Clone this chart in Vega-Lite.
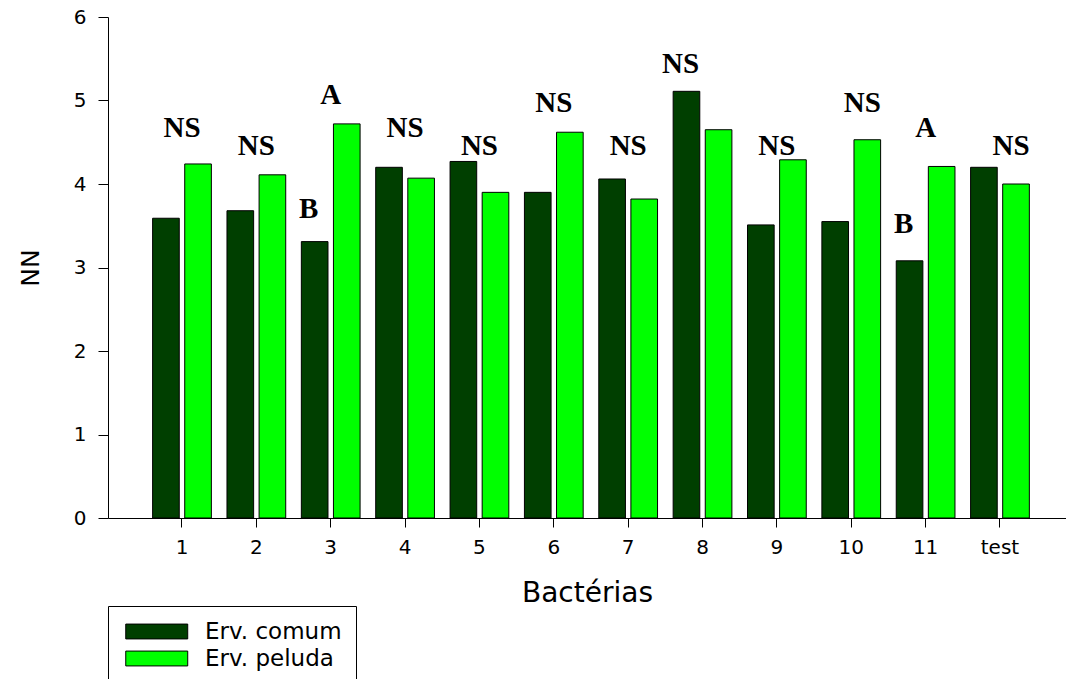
{
  "$schema": "https://vega.github.io/schema/vega-lite/v6.json",
  "width": 958,
  "height": 501,
  "autosize": {"type": "none"},
  "padding": {"left": 108, "top": 17, "right": 0, "bottom": 161},
  "background": "white",
  "config": {
    "view": {"stroke": null},
    "axis": {
      "grid": false,
      "domainColor": "black",
      "domainWidth": 1,
      "tickColor": "black",
      "tickWidth": 1,
      "labelColor": "black",
      "labelFont": "DejaVu Sans",
      "labelFontSize": 20,
      "titleColor": "black",
      "titleFont": "DejaVu Sans",
      "titleFontWeight": "normal"
    }
  },
  "datasets": {
    "nodules": [
      {"bacteria": "1", "vetch": "Erv. comum", "nn": 3.59},
      {"bacteria": "1", "vetch": "Erv. peluda", "nn": 4.24},
      {"bacteria": "2", "vetch": "Erv. comum", "nn": 3.68},
      {"bacteria": "2", "vetch": "Erv. peluda", "nn": 4.11},
      {"bacteria": "3", "vetch": "Erv. comum", "nn": 3.31},
      {"bacteria": "3", "vetch": "Erv. peluda", "nn": 4.72},
      {"bacteria": "4", "vetch": "Erv. comum", "nn": 4.2},
      {"bacteria": "4", "vetch": "Erv. peluda", "nn": 4.07},
      {"bacteria": "5", "vetch": "Erv. comum", "nn": 4.27},
      {"bacteria": "5", "vetch": "Erv. peluda", "nn": 3.9},
      {"bacteria": "6", "vetch": "Erv. comum", "nn": 3.9},
      {"bacteria": "6", "vetch": "Erv. peluda", "nn": 4.62},
      {"bacteria": "7", "vetch": "Erv. comum", "nn": 4.06},
      {"bacteria": "7", "vetch": "Erv. peluda", "nn": 3.82},
      {"bacteria": "8", "vetch": "Erv. comum", "nn": 5.11},
      {"bacteria": "8", "vetch": "Erv. peluda", "nn": 4.65},
      {"bacteria": "9", "vetch": "Erv. comum", "nn": 3.51},
      {"bacteria": "9", "vetch": "Erv. peluda", "nn": 4.29},
      {"bacteria": "10", "vetch": "Erv. comum", "nn": 3.55},
      {"bacteria": "10", "vetch": "Erv. peluda", "nn": 4.53},
      {"bacteria": "11", "vetch": "Erv. comum", "nn": 3.08},
      {"bacteria": "11", "vetch": "Erv. peluda", "nn": 4.21},
      {"bacteria": "test", "vetch": "Erv. comum", "nn": 4.2},
      {"bacteria": "test", "vetch": "Erv. peluda", "nn": 4.0}
    ],
    "letters": [
      {"bacteria": "1", "letter": "NS", "level": 4.56, "side": "center"},
      {"bacteria": "2", "letter": "NS", "level": 4.35, "side": "center"},
      {"bacteria": "3", "letter": "B", "level": 3.59, "side": "left"},
      {"bacteria": "3", "letter": "A", "level": 4.96, "side": "center"},
      {"bacteria": "4", "letter": "NS", "level": 4.56, "side": "center"},
      {"bacteria": "5", "letter": "NS", "level": 4.35, "side": "center"},
      {"bacteria": "6", "letter": "NS", "level": 4.86, "side": "center"},
      {"bacteria": "7", "letter": "NS", "level": 4.35, "side": "center"},
      {"bacteria": "8", "letter": "NS", "level": 5.33, "side": "left"},
      {"bacteria": "9", "letter": "NS", "level": 4.35, "side": "center"},
      {"bacteria": "10", "letter": "NS", "level": 4.86, "side": "right"},
      {"bacteria": "11", "letter": "B", "level": 3.41, "side": "left"},
      {"bacteria": "11", "letter": "A", "level": 4.56, "side": "center"},
      {"bacteria": "test", "letter": "NS", "level": 4.35, "side": "right"}
    ]
  },
  "encoding": {
    "x": {
      "field": "bacteria",
      "type": "nominal",
      "sort": ["1", "2", "3", "4", "5", "6", "7", "8", "9", "10", "11", "test"],
      "scale": {"paddingInner": 0.21, "paddingOuter": 0.5465, "align": 0.549},
      "title": "Bactérias",
      "axis": {
        "labelAngle": 0,
        "tickSize": 9,
        "labelPadding": 10,
        "titleFontSize": 28,
        "titlePadding": 22
      }
    }
  },
  "layer": [
    {
      "data": {"name": "nodules"},
      "mark": {"type": "bar", "stroke": "black", "strokeWidth": 1},
      "encoding": {
        "xOffset": {
          "field": "vetch",
          "type": "nominal",
          "sort": ["Erv. comum", "Erv. peluda"],
          "scale": {"paddingInner": 0.17, "paddingOuter": 0}
        },
        "y": {
          "field": "nn",
          "type": "quantitative",
          "title": "NN",
          "scale": {"domain": [0, 6], "nice": false, "zero": true},
          "axis": {
            "values": [0, 1, 2, 3, 4, 5, 6],
            "format": "d",
            "tickSize": 10,
            "labelPadding": 12,
            "titleFontSize": 25,
            "titlePadding": 30
          }
        },
        "color": {
          "field": "vetch",
          "type": "nominal",
          "scale": {"domain": ["Erv. comum", "Erv. peluda"], "range": ["#003f00", "#00ff00"]},
          "legend": {
            "orient": "none",
            "legendX": 0,
            "legendY": 589,
            "title": null,
            "direction": "vertical",
            "symbolType": "M-1,-0.96L7,-0.96L7,0.96L-1,0.96Z",
            "symbolSize": 240,
            "symbolStrokeColor": "black",
            "symbolStrokeWidth": 1,
            "symbolOpacity": 1,
            "labelFont": "DejaVu Sans",
            "labelFontSize": 23,
            "labelColor": "black",
            "labelOffset": 60,
            "rowPadding": 3,
            "padding": 14,
            "strokeColor": "black",
            "fillColor": "white",
            "cornerRadius": 0
          }
        }
      }
    },
    {
      "mark": {"type": "rule", "color": "black", "strokeWidth": 1},
      "encoding": {"y": {"datum": 6}}
    },
    {
      "data": {"name": "letters"},
      "transform": [{"filter": "datum.side === 'center'"}],
      "mark": {"type": "text", "font": "Liberation Serif", "fontWeight": "bold", "fontSize": 29, "baseline": "alphabetic", "align": "center", "color": "black"},
      "encoding": {
        "y": {"field": "level", "type": "quantitative", "title": "NN"},
        "text": {"field": "letter"}
      }
    },
    {
      "data": {"name": "letters"},
      "transform": [{"filter": "datum.side === 'left'"}],
      "mark": {"type": "text", "font": "Liberation Serif", "fontWeight": "bold", "fontSize": 29, "baseline": "alphabetic", "align": "center", "color": "black", "dx": -22},
      "encoding": {
        "y": {"field": "level", "type": "quantitative", "title": "NN"},
        "text": {"field": "letter"}
      }
    },
    {
      "data": {"name": "letters"},
      "transform": [{"filter": "datum.side === 'right'"}],
      "mark": {"type": "text", "font": "Liberation Serif", "fontWeight": "bold", "fontSize": 29, "baseline": "alphabetic", "align": "center", "color": "black", "dx": 11},
      "encoding": {
        "y": {"field": "level", "type": "quantitative", "title": "NN"},
        "text": {"field": "letter"}
      }
    }
  ]
}
